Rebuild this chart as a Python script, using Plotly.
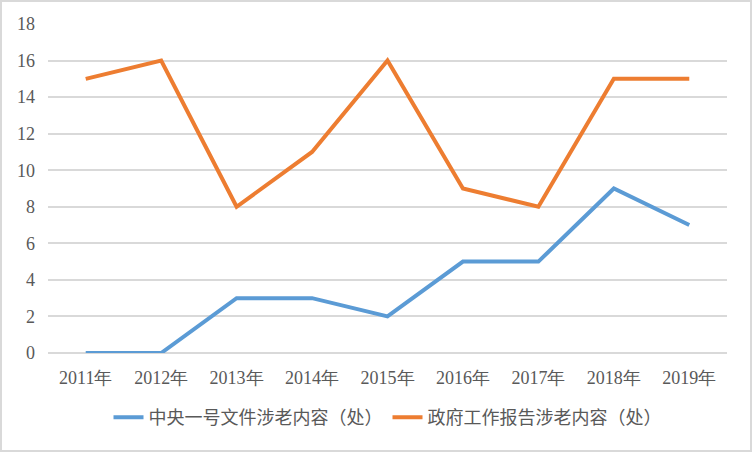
import plotly.graph_objects as go

years = ["2011年", "2012年", "2013年", "2014年", "2015年", "2016年", "2017年", "2018年", "2019年"]
central_doc = [0, 0, 3, 3, 2, 5, 5, 9, 7]
gov_report = [15, 16, 8, 11, 16, 9, 8, 15, 15]
names = ["中央一号文件涉老内容（处）", "政府工作报告涉老内容（处）"]

W, H = 752, 452
L, R, T, B = 48, 25, 24, 99

fig = go.Figure()
fig.add_trace(go.Scatter(x=years, y=central_doc, name=names[0], mode="lines",
                         line=dict(color="#5B9BD5", width=4)))
fig.add_trace(go.Scatter(x=years, y=gov_report, name=names[1], mode="lines",
                         line=dict(color="#ED7D31", width=4)))

pw, ph = W - L - R, H - T - B
fig.add_shape(type="rect", xref="paper", yref="paper",
              x0=-(L - 1) / pw, x1=1 + (R - 1) / pw, y0=-(B - 1) / ph, y1=1 + (T - 1) / ph,
              line=dict(color="#d9d9d9", width=2), layer="below")

serif = "Liberation Serif, Times New Roman, serif"
fig.update_layout(
    width=W, height=H,
    margin=dict(l=L, r=R, t=T, b=B, autoexpand=False),
    plot_bgcolor="white", paper_bgcolor="white",
    font=dict(family=serif, size=18, color="#595959"),
    showlegend=True,
    legend=dict(orientation="h", x=0.5, xanchor="center", y=-0.14, yanchor="top",
                font=dict(family="Noto Sans CJK SC", size=18, color="#595959"),
                tracegroupgap=0),
    xaxis=dict(range=[-0.5, 8.5], showgrid=False, showline=False, ticks="", automargin=False,
               ticklabelstandoff=12, tickfont=dict(family=serif, size=18, color="#595959")),
    yaxis=dict(range=[0, 18], dtick=2, showgrid=True, gridcolor="#d9d9d9", gridwidth=1.5,
               zeroline=True, zerolinecolor="#d9d9d9", zerolinewidth=1.5, automargin=False,
               showline=False, ticks="", ticklabelstandoff=12,
               tickfont=dict(family=serif, size=18, color="#595959")),
)

# drop the browser's default body margin so the figure sits at the page corner
fig.write_html("out.html", config={"displayModeBar": False},
               post_script="document.body.style.margin='0';")
